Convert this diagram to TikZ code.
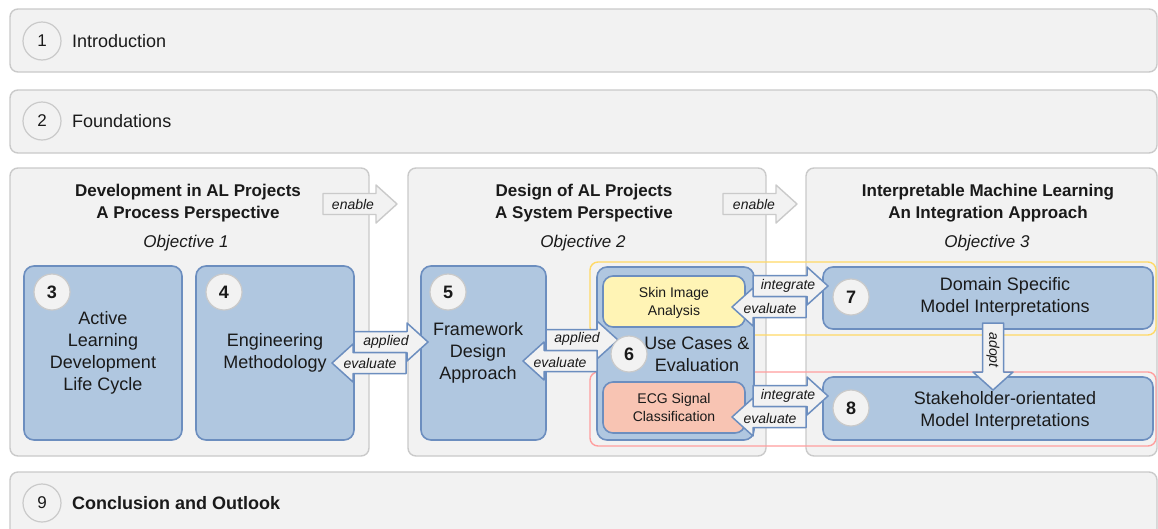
\documentclass[tikz,border=0pt]{standalone}
\usepackage{fontspec}
\setmainfont{Liberation Sans}
\definecolor{greyfill}{HTML}{F2F2F2}
\definecolor{greyline}{HTML}{CACACA}
\definecolor{bluefill}{HTML}{B0C7E0}
\definecolor{blueline}{HTML}{6C8EBF}
\definecolor{skinfill}{HTML}{FFF4B5}
\definecolor{ecgfill}{HTML}{F8C4B3}
\definecolor{yellowline}{HTML}{FFD966}
\definecolor{redline}{HTML}{FF9E9E}
\definecolor{ink}{HTML}{1A1A1A}
\tikzset{
  panel/.style={draw=greyline, fill=greyfill, line width=1.4pt, rounded corners=8pt,
    inner sep=0pt, outer sep=0pt, anchor=north west},
  bluebox/.style={draw=blueline, fill=bluefill, line width=1.6pt, rounded corners=10pt,
    inner sep=0pt, outer sep=0pt, anchor=north west},
  groupframe/.style={line width=1.4pt, rounded corners=8pt, inner sep=0pt, outer sep=0pt,
    anchor=north west},
  rownum/.style={circle, draw=greyline, fill=greyfill, line width=1.2pt, minimum size=38pt,
    inner sep=0pt, text=ink, font=\fontsize{17}{20}\selectfont},
  chapnum/.style={circle, draw=greyline, fill=greyfill, line width=1.2pt, minimum size=36pt,
    inner sep=0pt, text=ink, font=\bfseries\fontsize{18}{20}\selectfont},
  rowtext/.style={anchor=west, inner sep=0pt, text=ink, font=\fontsize{18}{22}\selectfont},
  coltitle/.style={align=center, inner sep=0pt, text=ink, font=\bfseries\fontsize{17}{22}\selectfont},
  objective/.style={inner sep=0pt, text=ink, font=\itshape\fontsize{17}{20}\selectfont},
  boxtext/.style={align=center, inner sep=0pt, text=ink, font=\fontsize{18}{22}\selectfont},
  casetext/.style={align=center, inner sep=0pt, text=ink, font=\fontsize{14}{18}\selectfont},
  arrlabel/.style={inner sep=0pt, text=ink, font=\itshape\fontsize{14}{16}\selectfont},
  arrowshape/.style={draw=blueline, fill=greyfill, line width=1.5pt, line join=round},
  greyarrow/.style={draw=greyline, fill=greyfill, line width=1.4pt, line join=round},
}
% block arrow pointing right: tail x, tip x, centre y
\newcommand\rarr[4][arrowshape]{%
  \draw[#1] (#2,#4-10.5) -- (#3-21,#4-10.5) -- (#3-21,#4-19) -- (#3,#4)
    -- (#3-21,#4+19) -- (#3-21,#4+10.5) -- (#2,#4+10.5) -- cycle;}
% block arrow pointing left: tail x, tip x, centre y
\newcommand\larr[4][arrowshape]{%
  \draw[#1] (#2,#4-10.5) -- (#3+21,#4-10.5) -- (#3+21,#4-19) -- (#3,#4)
    -- (#3+21,#4+19) -- (#3+21,#4+10.5) -- (#2,#4+10.5) -- cycle;}
\begin{document}
\begin{tikzpicture}[x=1pt, y=-1pt]
\useasboundingbox (0,0) rectangle (1158,528);
\clip (0,0) rectangle (1158,528);
\fill[white] (0,0) rectangle (1158,528);

% chapter rows
\node[panel, minimum width=1147pt, minimum height=63pt] (row1) at (10,9) {};
\node[panel, minimum width=1147pt, minimum height=63pt] (row2) at (10,90) {};
\node[panel, minimum width=1147pt, minimum height=90pt] (row9) at (10,472) {};
\node[rownum] (n1) at (42,41) {1};
\node[rownum] (n2) at (42,121) {2};
\node[rownum] (n9) at (42,503) {9};
\node[rowtext] (t1) at (72,41) {Introduction};
\node[rowtext] (t2) at (72,121) {Foundations};
\node[rowtext, font=\bfseries\fontsize{18}{22}\selectfont] (t9) at (72,503) {Conclusion and Outlook};

% objective columns
\node[panel, minimum width=359pt, minimum height=288pt] (col1) at (10,168) {};
\node[panel, minimum width=358pt, minimum height=288pt] (col2) at (408,168) {};
\node[panel, minimum width=351pt, minimum height=288pt] (col3) at (806,168) {};
\node[coltitle] (h1) at (188,203) {Development in AL Projects\\A Process Perspective};
\node[coltitle] (h2) at (584,203) {Design of AL Projects\\A System Perspective};
\node[coltitle] (h3) at (988,203) {Interpretable Machine Learning\\An Integration Approach};
\node[objective] (o1) at (186,243) {Objective 1};
\node[objective] (o2) at (583,243) {Objective 2};
\node[objective] (o3) at (987,243) {Objective 3};

% use case groupings
\node[groupframe, draw=yellowline, minimum width=566pt, minimum height=73pt] (grpskin) at (590,262) {};
\node[groupframe, draw=redline, minimum width=566pt, minimum height=74pt] (grpecg) at (590,372) {};

% chapter boxes
\node[bluebox, minimum width=158pt, minimum height=174pt] (b3) at (24,266) {};
\node[bluebox, minimum width=158pt, minimum height=174pt] (b4) at (196,266) {};
\node[bluebox, minimum width=125pt, minimum height=174pt] (b5) at (421,266) {};
\node[bluebox, minimum width=157pt, minimum height=173pt] (b6) at (597,267) {};
\node[bluebox, fill=skinfill, minimum width=142pt, minimum height=51pt] (skin) at (603,276) {};
\node[bluebox, fill=ecgfill, minimum width=142pt, minimum height=51pt] (ecg) at (603,382) {};
\node[bluebox, minimum width=330pt, minimum height=62pt] (b7) at (823,267) {};
\node[bluebox, minimum width=330pt, minimum height=63pt] (b8) at (823,377) {};

\node[chapnum] (n3) at (52,292) {3};
\node[chapnum] (n4) at (224,292) {4};
\node[chapnum] (n5) at (448,292) {5};
\node[chapnum] (n7) at (851,297) {7};
\node[chapnum] (n8) at (851,408) {8};

\node[boxtext] (t3) at (103,353) {Active\\Learning\\Development\\Life Cycle};
\node[boxtext] (t4) at (275,353) {Engineering\\Methodology};
\node[boxtext] (t5) at (478,353) {Framework\\Design\\Approach};
\node[boxtext] (t6) at (697,354) {Use Cases \&\\Evaluation};
\node[casetext] (tskin) at (674,303) {Skin Image\\Analysis};
\node[casetext] (tecg) at (674,407) {ECG Signal\\Classification};
\node[boxtext] (t7) at (1005,297) {Domain Specific\\Model Interpretations};
\node[boxtext] (t8) at (1005,411) {Stakeholder-orientated\\Model Interpretations};

% enabling arrows between objectives
\rarr[greyarrow]{323}{397}{204}
\rarr[greyarrow]{723}{797}{204}
\node[arrlabel] (len1) at (353,204) {enable};
\node[arrlabel] (len2) at (754,204) {enable};

% chapter 4 <-> chapter 5
\rarr{354}{428}{342}
\larr{406}{332}{363}
\node[arrlabel] (lap45) at (386,342) {applied};
\node[arrlabel] (lev45) at (370,363) {evaluate};

% chapter 5 <-> chapter 6
\rarr{546}{618}{340}
\larr{597}{523}{361}
\node[arrlabel] (lap56) at (577,339) {applied};
\node[arrlabel] (lev56) at (560,362) {evaluate};
\node[chapnum] (n6) at (629,354) {6};

% use cases <-> chapters 7 and 8
\rarr{753}{828}{286}
\larr{806}{732}{307}
\node[arrlabel] (lin7) at (788,286) {integrate};
\node[arrlabel] (lev7) at (770,308) {evaluate};
\rarr{753}{828}{396}
\larr{806}{732}{417}
\node[arrlabel] (lin8) at (788,396) {integrate};
\node[arrlabel] (lev8) at (770,418) {evaluate};

% chapter 7 -> chapter 8
\draw[arrowshape] (982.5,323) -- (1003.5,323) -- (1003.5,372) -- (1013,372) -- (993,390)
  -- (973,372) -- (982.5,372) -- cycle;
\node[arrlabel, rotate=-90] (ladopt) at (993,350) {adopt};
\end{tikzpicture}
\end{document}
